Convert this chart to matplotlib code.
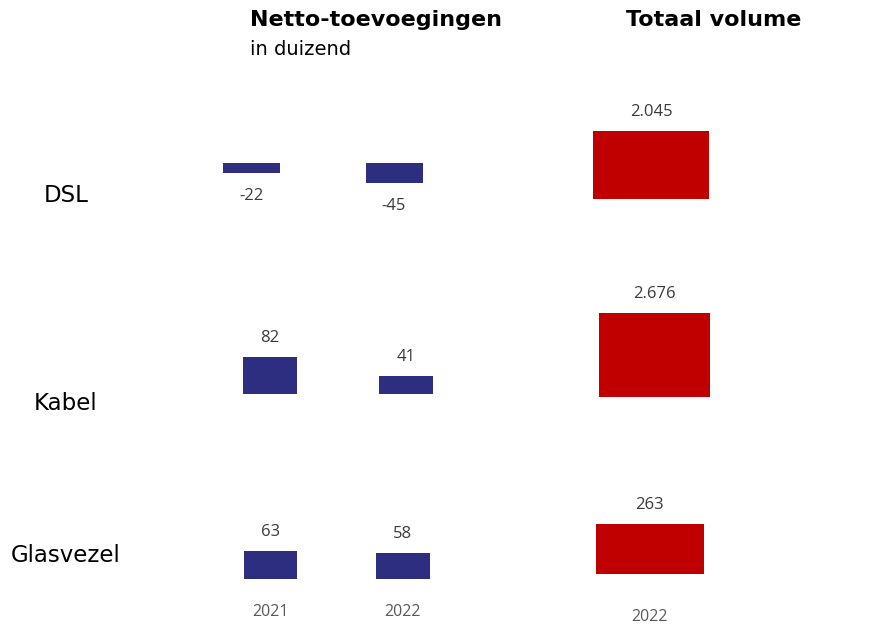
import matplotlib
matplotlib.use("Agg")
import matplotlib.pyplot as plt

# ---- data ----
categories = ["DSL", "Kabel", "Glasvezel"]
years_net = ["2021", "2022"]
net_additions = {            # netto-toevoegingen, in duizend
    "DSL": [-22, -45],
    "Kabel": [82, 41],
    "Glasvezel": [63, 58],
}
total_year = "2022"
total_volume = [2045, 2676, 263]   # in duizend
red_axis_max = [3000, 3200, 520]   # per-panel axis maximum (original used separate charts)

def fmt(v):
    return f"{v:,}".replace(",", ".")

# ---- layout (pixels) ----
W, H = 878, 639
DPI = 100
fig = plt.figure(figsize=(W / DPI, H / DPI), dpi=DPI)

def fx(px):
    return px / W

def fy(py):
    return 1 - py / H

BLUE = "#2E2E80"
RED = "#C00000"
LBL = "#3A3A3A"
YR = "#595959"
num_font = ["Open Sans", "DejaVu Sans"]

px_per_unit = 0.45
blue_baseline = [163, 394, 579]
blue_center1 = [251.5, 270, 270.5]   # pixel centre of first bar per row
blue_spacing = [142.5, 136, 132.5]   # pixel distance between bar centres
blue_barw = [57, 54.5, 53.5]
red_baseline = [199, 396.7, 574.3]
red_center = [651, 654.5, 649.7]
red_width = [116, 111, 108]
row_label_y = [196, 404, 555]

for r, cat in enumerate(categories):
    # ---- blue panel ----
    yb = blue_baseline[r]
    sp = blue_spacing[r]
    x0 = blue_center1[r] - sp / 2
    ax = fig.add_axes([fx(x0), fy(yb + 30), fx(2 * sp), 120 / H])
    vals = net_additions[cat]
    xs = list(range(len(years_net)))
    ax.bar(xs, vals, width=blue_barw[r] / sp, color=BLUE, linewidth=0)
    ax.set_xlim(-0.5, 1.5)
    ax.set_ylim(-30 / px_per_unit, 90 / px_per_unit)
    for x, v in zip(xs, vals):
        off = 13.5 if v >= 0 else -16.5
        ax.annotate(str(v), (x, v), xytext=(0, off), textcoords="offset points",
                    ha="center", va="center", fontsize=12, color=LBL,
                    family=num_font, annotation_clip=False)
    if r == len(categories) - 1:
        for x, yl in zip(xs, years_net):
            ax.annotate(yl, (x, 0), xytext=(0, -23.5), textcoords="offset points",
                        ha="center", va="center", fontsize=11.5, color=YR,
                        family=num_font, annotation_clip=False)
    ax.axis("off")

    # ---- red panel ----
    ybr = red_baseline[r]
    axr = fig.add_axes([fx(red_center[r] - 112), fy(ybr), fx(224), 100 / H])
    axr.bar([0], [total_volume[r]], width=red_width[r] / 112, color=RED, linewidth=0)
    axr.set_xlim(-1, 1)
    axr.set_ylim(0, red_axis_max[r])
    axr.annotate(fmt(total_volume[r]), (0, total_volume[r]), xytext=(0, 13.5),
                 textcoords="offset points", ha="center", va="center",
                 fontsize=12, color=LBL, family=num_font, annotation_clip=False)
    if r == len(categories) - 1:
        axr.annotate(total_year, (0, 0), xytext=(0, -30.5), textcoords="offset points",
                     ha="center", va="center", fontsize=11.5, color=YR,
                     family=num_font, annotation_clip=False)
    axr.axis("off")

    # ---- row label ----
    fig.text(fx(66), fy(row_label_y[r]), cat, ha="center", va="center",
             fontsize=16.5, color="black", family="DejaVu Sans")

# ---- headers ----
fig.text(fx(250), fy(26), "Netto-toevoegingen", ha="left", va="baseline",
         fontsize=16, fontweight="heavy", color="black", family="DejaVu Sans")
fig.text(fx(250), fy(55), "in duizend", ha="left", va="baseline",
         fontsize=14, color="black", family="DejaVu Sans")
fig.text(fx(714), fy(26), "Totaal volume", ha="center", va="baseline",
         fontsize=16, fontweight="heavy", color="black", family="DejaVu Sans")

fig.savefig("out.png", dpi=DPI)
